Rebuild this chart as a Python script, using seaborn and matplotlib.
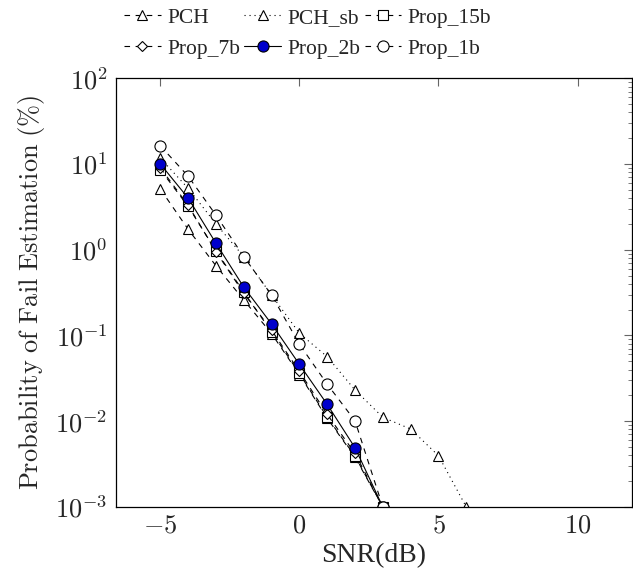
import matplotlib
matplotlib.use("Agg")
import matplotlib.pyplot as plt
import seaborn as sns
import pandas as pd
from matplotlib.ticker import FixedLocator, LogLocator, NullFormatter

snr = [-5, -4, -3, -2, -1, 0, 1, 2, 3]
snr_sb = [-5, -4, -3, -2, -1, 0, 1, 2, 3, 4, 5, 6]

pch = [5.1, 1.73, 0.65, 0.259, 0.105, 0.035, 0.0108, 0.0038, 0.001]
pch_sb = [11.7, 5.2, 2.0, 0.83, 0.296, 0.106, 0.0565, 0.0231, 0.0111, 0.0081, 0.00396, 0.001]
prop_15b = [8.6, 3.2, 0.97, 0.32, 0.11, 0.036, 0.0111, 0.0039, 0.001]
prop_7b = [9.0, 3.3, 0.95, 0.31, 0.115, 0.038, 0.012, 0.0042, 0.001]
prop_2b = [10.0, 4.0, 1.19, 0.366, 0.136, 0.046, 0.0157, 0.0049, 0.001]
prop_1b = [16.3, 7.2, 2.53, 0.83, 0.296, 0.079, 0.027, 0.0101, 0.001]

x_ticks = [-5, 0, 5, 10]
x_ticklabels = [r"$-5$", r"$0$", r"$5$", r"$10$"]
y_ticks = [1e-3, 1e-2, 1e-1, 1e0, 1e1, 1e2]
y_ticklabels = [r"$10^{-3}$", r"$10^{-2}$", r"$10^{-1}$", r"$10^{0}$", r"$10^{1}$", r"$10^{2}$"]

dash = (0, (5, 5))
series = [
    ("PCH", snr, pch, dict(linestyle=dash, marker="^", mfc="white")),
    ("PCH_sb", snr_sb, pch_sb, dict(linestyle=(0, (1, 3.5)), marker="^", mfc="white")),
    ("Prop_15b", snr, prop_15b, dict(linestyle=dash, marker="s", mfc="white")),
    ("Prop_7b", snr, prop_7b, dict(linestyle=dash, marker="D", mfc="white")),
    ("Prop_2b", snr, prop_2b, dict(linestyle="-", marker="o", mfc="#0000cc")),
    ("Prop_1b", snr, prop_1b, dict(linestyle=dash, marker="o", mfc="white")),
]

sns.set_style("white")
plt.rcParams["font.family"] = ["Liberation Serif", "DejaVu Serif"]
plt.rcParams["mathtext.fontset"] = "cm"

fig = plt.figure(figsize=(6.33, 5.84), dpi=100)
ax = fig.add_axes([0.183, 0.132, 0.815, 0.734])

msizes = {"^": 7.5, "s": 6.5, "D": 5.5, "o": 8}
handles = {}
for name, xs, ys, st in series:
    df = pd.DataFrame({"SNR": xs, "P": ys})
    sns.lineplot(data=df, x="SNR", y="P", ax=ax, color="black", linewidth=0.8,
                 linestyle=st["linestyle"], marker=st["marker"],
                 markerfacecolor=st["mfc"], markeredgecolor="black",
                 markeredgewidth=0.8, markersize=msizes[st["marker"]],
                 label=name)
    handles[name] = ax.lines[-1]

ax.set_yscale("log")
ax.set_xlim(-6.6, 11.95)
ax.set_ylim(1e-3, 1e2)
ax.xaxis.set_major_locator(FixedLocator(x_ticks))
ax.set_xticklabels(x_ticklabels)
ax.yaxis.set_major_locator(FixedLocator(y_ticks))
ax.set_yticklabels(y_ticklabels)
ax.yaxis.set_minor_locator(LogLocator(base=10, subs=range(2, 10), numticks=10))
ax.yaxis.set_minor_formatter(NullFormatter())
ax.tick_params(axis="both", which="both", direction="in", top=True, right=True,
               labelsize=19, color="#666666")
ax.tick_params(axis="both", which="major", length=6, width=0.8, pad=6)
ax.tick_params(axis="y", which="minor", length=3, width=0.6)
for s in ax.spines.values():
    s.set_color("black")
    s.set_linewidth(0.9)

ax.set_xlabel("SNR(dB)", fontsize=20, labelpad=4)
ax.set_ylabel(r"$\mathrm{Probability\ of\ Fail\ Estimation\ (\%)}$", fontsize=19, labelpad=6)

order = ["PCH", "Prop_7b", "PCH_sb", "Prop_2b", "Prop_15b", "Prop_1b"]
ax.legend([handles[n] for n in order], order,
          loc="lower center", bbox_to_anchor=(0.486, 0.885), bbox_transform=fig.transFigure,
          ncol=3, frameon=False, fontsize=15.5, handlelength=1.7, handletextpad=0.3,
          columnspacing=0.2, labelspacing=0.5, borderaxespad=0)

fig.savefig("out.png", dpi=100)
